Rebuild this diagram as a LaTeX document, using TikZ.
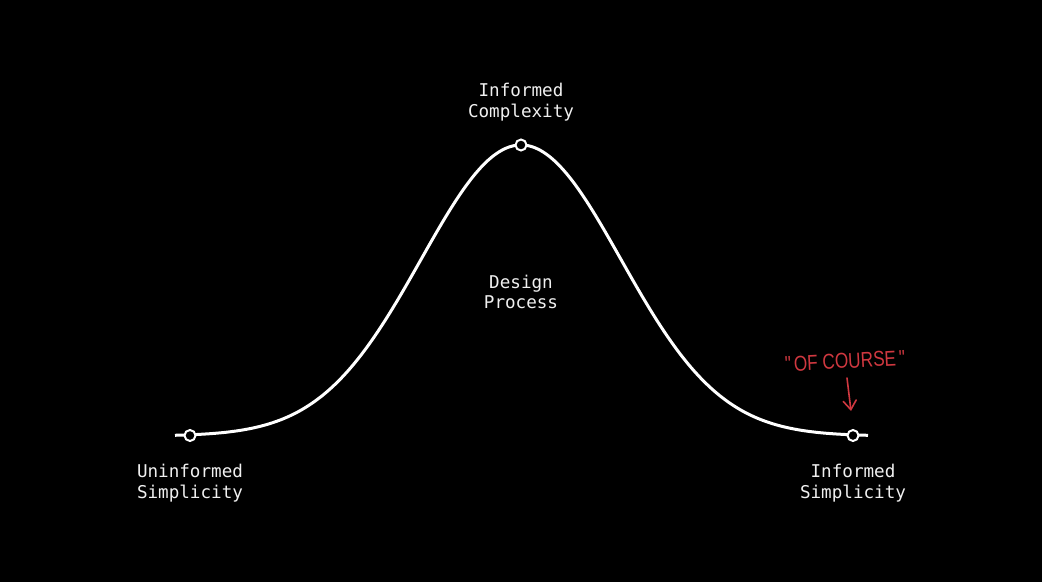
\documentclass[tikz,border=0pt]{standalone}
\usepackage{fontspec}
\setmonofont{DejaVu Sans Mono}
\newfontfamily\handfont{Liberation Sans}
\usetikzlibrary{arrows.meta}
\definecolor{hred}{RGB}{208,56,64}
\definecolor{lblwhite}{RGB}{240,240,240}
\begin{document}
\begin{tikzpicture}[x=1pt,y=-1pt,
  lbl/.style={text=lblwhite, font=\ttfamily\fontsize{17.6}{20.5}\selectfont, align=center, inner sep=0pt},
  dot/.style={circle, draw=white, fill=black, line width=2pt, minimum size=11pt, inner sep=0pt},
  curve/.style={white, line width=3pt},
  hand/.style={text=hred, font=\handfont\fontsize{21.5}{21.5}\selectfont, inner sep=0pt},
  handarrow/.style={hred, line width=1.6pt, line cap=round, -{Straight Barb[length=9pt,width=13pt,line cap=round]}}]
\fill[black] (0,0) rectangle (1042,582);
\useasboundingbox (0,0) rectangle (1042,582);
% bell curve
\draw[curve, domain=175:868, samples=240, variable=\x]
  plot (\x, {436-291*exp(-(((\x-521)/100)^2)/2)});
% dots
\node[dot] (uL) at (190,435.5) {};
\node[dot] (pk) at (521,145) {};
\node[dot] (uR) at (853,435.5) {};
% labels
\node[lbl] (ic) at (521,102) {Informed\\Complexity};
\node[lbl] (dp) at (521,292) {Design\\Process};
\node[lbl] (us) at (190,483) {Uninformed\\Simplicity};
\node[lbl] (is) at (853,483) {Informed\\Simplicity};
% handwritten note
\node[hand, rotate=3] (oc) at (845,361) {\scalebox{0.8}[1]{"\,OF COURSE\,"}};
\coordinate (a1) at (847,378);
\coordinate (a2) at (851,411);
\draw[handarrow] (a1) -- (a2);
\end{tikzpicture}
\end{document}
